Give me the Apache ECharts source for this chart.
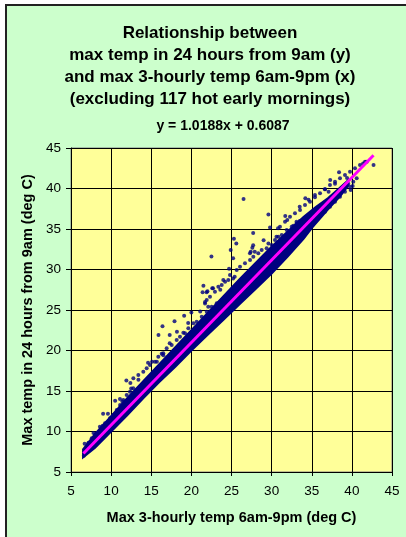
<!DOCTYPE html>
<html><head><meta charset="utf-8">
<script src="https://cdn.jsdelivr.net/npm/echarts@6/dist/echarts.min.js"></script>
<style>html,body{margin:0;padding:0;background:#fff}#c{width:406px;height:537px}</style>
</head><body><div id="c"></div>
<script>
var titleLines = ['Relationship between','max temp in 24 hours from 9am (y)','and max 3-hourly temp 6am-9pm (x)','(excluding 117 hot early mornings)'];
var equationText = 'y = 1.0188x + 0.6087';
var xAxisName = 'Max 3-hourly temp 6am-9pm (deg C)';
var yAxisName = 'Max temp in 24 hours from 9am (deg C)';
var xTicks = [5,10,15,20,25,30,35,40,45];
var yTicks = [5,10,15,20,25,30,35,40,45];
// dense core of the scatter cloud (upper edge left->right, lower edge right->left)
var bandUpper = [[6.5,7.8],[8,9.7],[10,11.9],[12,14.1],[14,16.2],[16,18.3],[18,20.4],[20,22.5],[22,24.6],[24,26.7],[26,28.8],[28,30.8],[30,32.8],[32,34.7],[34,36.5],[35.5,37.7],[37,38.8],[38.5,40.1],[39.5,41.0]];
var bandLower = [[39.5,40.3],[38.5,39.0],[37,37.4],[35,35.1],[34,33.8],[32,31.6],[30,29.5],[28,27.6],[26,25.7],[24,23.8],[22,21.9],[20,20.0],[18,18.0],[16,16.1],[14,14.1],[12,12.0],[10,10.0],[8,8.0],[6.5,6.8]];
// isolated points well above the cloud
var outlierPoints = [
[26.5,38.7],[27.7,34.5],[25.3,33.8],[25.6,33.2],[24.9,32.4],[22.5,31.6],[25.2,31.4],[27.6,32.7],[27.4,32.2],[24.7,30.1],
[21.5,28.0],[21.4,27.2],[22.6,27.7],[21.9,27.2],[24.2,28.5],[25.2,28.9],[16.4,23.0],[17.9,23.6],[19.1,24.3],[20.0,24.7],
[19.6,23.4],[15.9,21.9],[17.3,21.9],[18.2,22.3],[19.0,22.2],[14.6,18.5],[15.1,18.6],[15.7,18.6],[16.3,19.6],[16.5,19.4],
[17.3,20.9],[11.9,16.3],[12.4,16.0],[13.4,16.4],[11.1,14.0],[11.4,13.7],[10.5,13.8],[9.0,12.2],[9.6,12.2],[9.4,11.0],
[8.6,10.6],[8.95,10.7],[7.8,9.8],[8.0,9.6],[6.7,8.5],[7.2,8.6],[6.6,7.0],[8.5,8.8],[9.0,9.4],[12.5,15.3],
[21.7,25.8],[22.1,25.4],[21.1,24.8],[22.0,27.3],[21.7,26.0],[22.7,27.7],[23.6,27.5],[24.6,28.7],[25.4,29.1],[27.9,32.2],
[27.3,32.0],[29.6,36.8],[29.8,35.2],[31.7,36.6],[31.95,36.1],[30.8,35.1],[33.5,37.75],[34.2,38.8],[34.6,38.6],[35.4,39.2],
[36.65,39.9],[37.1,39.6],[37.3,41.05],[37.9,40.6],[38.4,42.0],[39.4,41.3],[40.1,40.3],[42.7,42.9],[41.4,43.1],[41.85,43.3],
[27.7,33.0],[29.0,33.6],[29.6,33.2],[30.6,34.05],[33.1,35.9],[33.5,36.0],[32.7,35.4],[39.55,40.6],[39.85,39.8]
];
// ragged fringe along the top of the cloud
var fringeUpper = [
[7.16,8.54],[7.58,9.16],[8.20,9.78],[8.83,10.39],[9.24,11.01],[9.86,11.63],[10.27,12.04],[10.70,12.65],[11.11,13.27],[11.52,13.89],
[11.94,14.51],[12.35,14.91],[12.76,15.33],[12.77,16.57],[13.39,16.98],[14.01,17.38],[14.43,17.80],[14.84,18.21],[15.47,18.62],[15.88,19.23],
[16.50,19.65],[16.92,20.27],[17.55,20.68],[18.17,21.30],[18.58,21.70],[19.21,22.12],[19.62,22.74],[20.24,23.36],[20.66,23.56],[21.29,24.17],
[21.91,24.79],[22.53,25.41],[23.16,25.83],[21.91,26.23],[22.32,26.64],[22.94,27.26],[23.36,27.88],[23.78,28.09],[23.98,28.70],[24.81,29.32],
[25.65,29.94],[26.06,30.35],[26.68,30.76],[27.31,31.17],[27.72,31.58],[28.34,32.00],[28.76,32.41],[29.38,32.62],[30.01,33.02],[30.42,33.64],
[30.83,34.05],[31.26,34.26],[31.88,34.88],[32.50,35.28],[33.12,35.70],[31.04,35.28],[31.67,35.90],[32.29,36.52],[32.91,36.93],[33.54,37.35],
[34.16,37.96],[34.78,38.37],[35.40,38.91],[36.03,39.41],[36.65,39.90],[37.27,40.43],[37.90,40.84],[38.52,41.26],[39.14,41.67],[39.77,42.07],
[40.39,42.49],[41.01,42.90],[41.64,43.31]
];
// points hugging / just below the trend at the hot end
var fringeLower = [
[34.78,35.70],[35.40,36.32],[36.03,36.73],[36.65,37.14],[37.27,37.75],[37.90,38.37],[38.52,38.99],[39.14,39.60],[39.77,40.22],[40.18,40.84],[40.60,41.26]
];
var trendLine = [[6.55,7.28],[42.7,44.11]];

var chart = echarts.init(document.getElementById('c'), null, {renderer:'canvas'});
var FONT = '"Liberation Sans", Arial, sans-serif';
var bandPoly = bandUpper.concat(bandLower);
var pointSeries = function(d){
  return {type:'scatter', data:d, symbol:'circle', symbolSize:4, itemStyle:{color:'#000080'}, z:3, silent:true};
};
var option = {
  animation:false,
  backgroundColor:'#fff',
  graphic: [
    {type:'rect', shape:{x:6,y:5,width:420,height:560}, style:{fill:'#CCFFCC', stroke:'#222', lineWidth:2}, z:-10, silent:true},
    {type:'text', z:10, x:210, y:33, style:{text:titleLines[0], font:'bold 17px '+FONT, fill:'#000', textAlign:'center', textVerticalAlign:'middle'}},
    {type:'text', z:10, x:210, y:55, style:{text:titleLines[1], font:'bold 17px '+FONT, fill:'#000', textAlign:'center', textVerticalAlign:'middle'}},
    {type:'text', z:10, x:210, y:77, style:{text:titleLines[2], font:'bold 17px '+FONT, fill:'#000', textAlign:'center', textVerticalAlign:'middle'}},
    {type:'text', z:10, x:210, y:99, style:{text:titleLines[3], font:'bold 17px '+FONT, fill:'#000', textAlign:'center', textVerticalAlign:'middle'}},
    {type:'text', z:10, x:223, y:126, style:{text:equationText, font:'bold 14px '+FONT, fill:'#000', textAlign:'center', textVerticalAlign:'middle'}}
  ],
  grid:{left:71, right:14, top:148, bottom:65, show:true, backgroundColor:'#FFFF99', borderColor:'#808080', borderWidth:1},
  xAxis:{type:'value', min:5, max:45, interval:5,
    name:xAxisName, nameLocation:'middle', nameGap:38,
    nameTextStyle:{fontFamily:FONT, fontWeight:'bold', fontSize:14.5, color:'#000'},
    axisLine:{show:true, onZero:false, lineStyle:{color:'#000', width:1}},
    axisTick:{show:true, length:4, lineStyle:{color:'#000'}},
    axisLabel:{fontFamily:FONT, fontSize:13.5, color:'#000', margin:12, formatter:function(v){return xTicks.indexOf(v)>=0? String(v):'';}},
    splitLine:{show:true, lineStyle:{color:'#000', width:1}}},
  yAxis:{type:'value', min:5, max:45, interval:5,
    name:yAxisName, nameLocation:'middle', nameGap:30,
    nameTextStyle:{fontFamily:FONT, fontWeight:'bold', fontSize:14.5, color:'#000'},
    axisLine:{show:true, onZero:false, lineStyle:{color:'#000', width:1}},
    axisTick:{show:true, length:5, lineStyle:{color:'#000'}},
    axisLabel:{fontFamily:FONT, fontSize:13.5, color:'#000', margin:10, formatter:function(v){return yTicks.indexOf(v)>=0? String(v):'';}},
    splitLine:{show:true, lineStyle:{color:'#000', width:1}}},
  series:[
    {type:'custom', data:bandPoly, z:2, silent:true,
      renderItem:function(params, api){
        if (params.dataIndex !== 0) return null;
        var pts = bandPoly.map(function(p){return api.coord(p);});
        return {type:'polygon', shape:{points:pts}, style:{fill:'#000080', stroke:'#000080', lineWidth:2}};
      }},
    pointSeries(outlierPoints),
    pointSeries(fringeUpper),
    pointSeries(fringeLower),
    {type:'line', data:trendLine, symbol:'none', lineStyle:{color:'#FF00FF', width:3}, z:4, silent:true}
  ]
};
chart.setOption(option);
</script>
</body></html>
